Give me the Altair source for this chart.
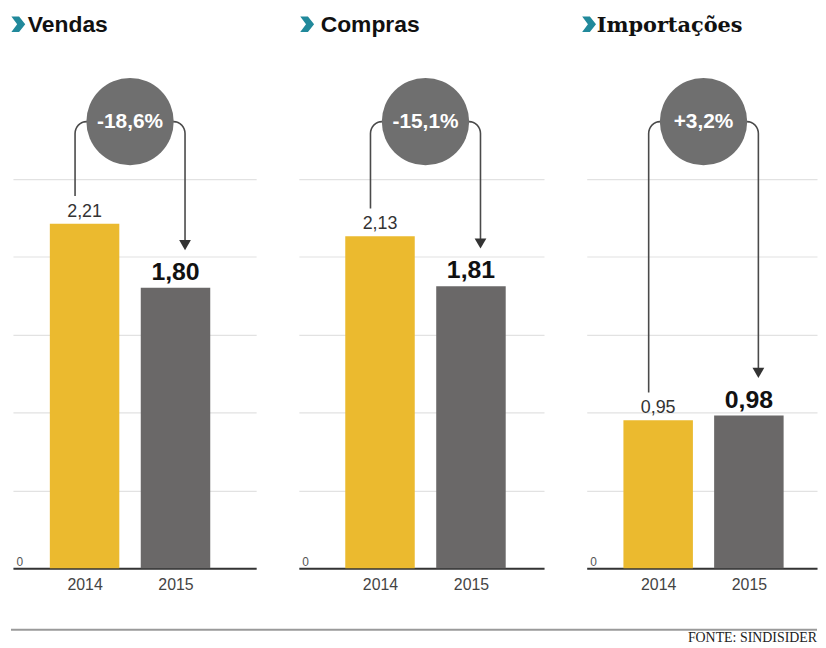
import math
import altair as alt
import pandas as pd

# ---------------- data ----------------
YEARS = [2014, 2015]
TITLES = ["Vendas", "Compras", "Importações"]
VENDAS = [2.21, 1.80]
COMPRAS = [2.13, 1.81]
IMPORTACOES = [0.95, 0.98]
PCT = ["-18,6%", "-15,1%", "+3,2%"]
SOURCE = "FONTE: SINDISIDER"
GRID_VALUES = [0, 0.5, 1.0, 1.5, 2.0, 2.5]

# ---------------- layout / style ----------------
H = 508
YMAX = 3.236
PANEL_W = [245, 247, 232]
FIRST_BAR_PX = [70, 80, 70]
PX_PER_YEAR = 95.5
TITLE_POS = [(5, 15), (8, 22), (2, 10)]
CIRCLE_Y = 2.866
CIRCLE_D = 88
YELLOW = "#EBBA2F"
GRAY = "#6A6868"
CIRCLE = "#6F6F6F"
LINE = "#4a4a4a"
TEAL = "#21899b"
SANS = "Liberation Sans, Arial, sans-serif"
NARROW = "Liberation Sans Narrow, Liberation Sans, Arial, sans-serif"
CHEVRON = "M-0.85,-1 L0.15,-1 L0.95,0 L0.15,1 L-0.85,1 L-0.1,0 Z"


def fmt(v):
    return f"{v:.2f}".replace(".", ",")


def connector_df(values):
    px_y = H / YMAX
    px_x = PX_PER_YEAR
    mid = sum(YEARS) / len(YEARS)
    r = 12
    xl = YEARS[0] - 10 / px_x
    xr = YEARS[1] + 10 / px_x
    rows = []
    pts = [(xl, values[0] + 28 / px_y)]
    for k in range(9):
        th = math.pi - (math.pi / 2) * k / 8
        pts.append((xl + (r + r * math.cos(th)) / px_x,
                    CIRCLE_Y + (-r + r * math.sin(th)) / px_y))
    pts.append((mid, CIRCLE_Y))
    for j, (a, b) in enumerate(pts):
        rows.append({"year": a, "value": b, "order": j, "seg": "L"})
    pts = [(mid, CIRCLE_Y)]
    for k in range(9):
        th = math.pi / 2 - (math.pi / 2) * k / 8
        pts.append((xr + (-r + r * math.cos(th)) / px_x,
                    CIRCLE_Y + (-r + r * math.sin(th)) / px_y))
    pts.append((xr, values[1] + 43 / px_y))
    for j, (a, b) in enumerate(pts):
        rows.append({"year": a, "value": b, "order": j, "seg": "R"})
    arrow = pd.DataFrame({"year": [xr], "value": [values[1] + 43 / px_y]})
    return pd.DataFrame(rows), arrow


def panel(i, values):
    w = PANEL_W[i]
    lo = YEARS[0] - FIRST_BAR_PX[i] / PX_PER_YEAR
    hi = lo + w / PX_PER_YEAR
    xs = alt.Scale(domain=[lo, hi], nice=False, zero=False)
    ys = alt.Scale(domain=[0, YMAX], nice=False, zero=True)

    df = pd.DataFrame({"year": YEARS, "value": values,
                       "label": [fmt(v) for v in values],
                       "yr": [str(y) for y in YEARS]})
    base = alt.Chart(df)

    x_axis = alt.Axis(values=YEARS, format="d", title=None, ticks=False, tickSize=0,
                      grid=False, domainColor="#333333", domainWidth=2,
                      labelFont=NARROW, labelFontSize=16, labelColor="#444444",
                      labelPadding=8)
    y_axis = alt.Axis(values=GRID_VALUES, labelExpr="datum.value == 0 ? '0' : ''",
                      title=None, ticks=False, tickSize=0, domain=False,
                      grid=True, gridColor="#e2e2e2", gridWidth=1.2,
                      labelAlign="left", labelBaseline="bottom", labelPadding=-3,
                      labelFont=NARROW, labelFontSize=12, labelColor="#555555")

    X = alt.X("year:Q", scale=xs, axis=x_axis)
    Y = alt.Y("value:Q", scale=ys, axis=y_axis)
    Xn = alt.X("year:Q", scale=xs)
    Yn = alt.Y("value:Q", scale=ys)

    bars = base.mark_bar(size=70).encode(
        x=X, y=Y,
        color=alt.Color("yr:N", scale=alt.Scale(domain=[str(y) for y in YEARS],
                                                range=[YELLOW, GRAY]), legend=None))
    lab_a = base.transform_filter(alt.datum.year == YEARS[0]).mark_text(
        baseline="alphabetic", dy=-7, fontSize=18, font=SANS, color="#333333"
    ).encode(x=Xn, y=Yn, text="label:N")
    lab_b = base.transform_filter(alt.datum.year == YEARS[1]).mark_text(
        baseline="alphabetic", dy=-8, fontSize=25, fontWeight="bold", font=SANS,
        color="#111111"
    ).encode(x=Xn, y=Yn, text="label:N")

    cdf, adf = connector_df(values)
    lines = alt.Chart(cdf).mark_line(color=LINE, strokeWidth=1.6).encode(
        x=Xn, y=Yn, detail="seg:N", order="order:Q")
    arrow = alt.Chart(adf).mark_point(shape="triangle-down", filled=True, size=140,
                                      color="#333333", opacity=1).encode(x=Xn, y=Yn)

    cdata = pd.DataFrame({"year": [sum(YEARS) / len(YEARS)], "value": [CIRCLE_Y],
                          "pct": [PCT[i]]})
    circ = alt.Chart(cdata).mark_circle(size=CIRCLE_D * CIRCLE_D, color=CIRCLE,
                                        opacity=1).encode(x=Xn, y=Yn)
    pct = alt.Chart(cdata).mark_text(fontSize=21, fontWeight="bold", font=SANS,
                                     color="white").encode(x=Xn, y=Yn, text="pct:N")

    tx_c, tx_t = TITLE_POS[i]
    tdf = pd.DataFrame({"t": [TITLES[i]]})
    chev = alt.Chart(tdf).mark_point(shape=CHEVRON, filled=True, size=240, color=TEAL,
                                     opacity=1).encode(x=alt.value(tx_c),
                                                       y=alt.value(-40))
    if i == 2:
        tmark = alt.Chart(tdf).mark_text(align="left", baseline="alphabetic",
                                         fontSize=21, fontWeight="bold",
                                         font="DejaVu Serif, serif", color="#111111")
    else:
        tmark = alt.Chart(tdf).mark_text(align="left", baseline="alphabetic",
                                         fontSize=23, fontWeight="bold", font=SANS,
                                         color="#111111")
    title = tmark.encode(x=alt.value(tx_t), y=alt.value(-32), text="t:N")

    layers = [bars, lines, arrow, circ, pct, lab_a, lab_b, chev, title]

    if i == 0:
        rule = alt.Chart(pd.DataFrame({"a": [0]})).mark_rule(
            color="#9a9a9a", strokeWidth=2).encode(
            x=alt.value(-2), x2=alt.value(810), y=alt.value(570))
        layers.append(rule)
    if i == 2:
        src = alt.Chart(pd.DataFrame({"s": [SOURCE]})).mark_text(
            align="right", baseline="middle", fontSize=14,
            font="Liberation Serif, serif", color="#222222").encode(
            x=alt.value(w), y=alt.value(578), text="s:N")
        layers.append(src)

    return alt.layer(*layers).properties(width=w, height=H)


chart = alt.hconcat(
    panel(0, VENDAS), panel(1, COMPRAS), panel(2, IMPORTACOES),
    spacing=43, bounds="flush"
).properties(
    padding={"left": 2, "top": 4, "right": 0, "bottom": 0},
    background="white"
).configure_view(stroke=None)

chart.save("out.html", embed_options={"renderer": "svg", "actions": False})
